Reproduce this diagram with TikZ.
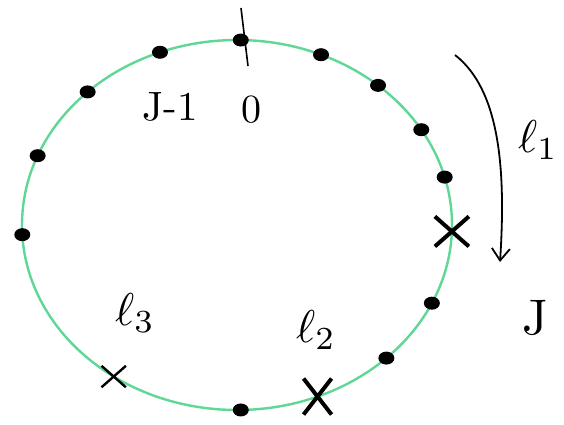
\documentclass[tikz,border=0pt]{standalone}
\usepackage{graphicx}
\usepackage{tikz}
\usetikzlibrary{positioning,shapes.misc,shapes.geometric,arrows.meta}
\definecolor{ringgreen}{RGB}{95,215,150}
\newcommand{\handtext}[2][4.6]{\scalebox{#1}{#2}}

\begin{document}
\begin{tikzpicture}[x=1pt,y=-1pt,
        site/.style={ellipse,fill=black,minimum width=16pt,minimum height=13pt,inner sep=0pt},
        bigcut/.style={cross out,draw=black,line width=4pt,minimum width=30pt,minimum height=26pt,inner sep=0pt},
        cut/.style={cross out,draw=black,line width=2.4pt,minimum width=22pt,minimum height=19pt,inner sep=0pt},
        tag/.style={inner sep=0pt}]
  \useasboundingbox (0,0) rectangle (564,425);
  \fill[white] (0,0) rectangle (564,425);
  % ring
  \draw[ringgreen,line width=2.4pt] (237,225) ellipse [x radius=215,y radius=185];
  % sites on the ring
  \foreach \a [count=\i] in {89,67,49,31,15,-25,-46,-89,183,158,134,111}
    \node[site] (s\i) at ({237+215*cos(\a)},{225-185*sin(\a)}) {};
  % cuts
  \node[bigcut] (c1) at ({237+215*cos(-2)},{225-185*sin(-2)}) {};
  \node[bigcut,minimum width=24pt,minimum height=32pt] (c2) at ({237+215*cos(-68)},{225-185*sin(-68)}) {};
  \node[cut] (c3) at ({237+215*cos(-125)},{225-185*sin(-125)}) {};
  % origin tick
  \coordinate (t0) at (241,8);
  \coordinate (t1) at (248,66);
  \draw[line width=1.6pt] (t0) -- (t1);
  % labels
  \node[tag] (jm) at (170,107) {\handtext[4.1]{J-1}};
  \node[tag] (zero) at (251,110) {\handtext[4]{0}};
  \node[tag] (l3) at (135,313) {\handtext{$\ell_3$}};
  \node[tag] (l2) at (316,330) {\handtext{$\ell_2$}};
  \node[tag] (jj) at (535,318) {\handtext[5]{J}};
  \node[tag,anchor=west] (l1) at (518,140) {\handtext{$\ell_1$}};
  % sweep arrow
  \coordinate (a0) at (455,55);
  \coordinate (a1) at (500,262);
  \draw[line width=1.8pt,-{Straight Barb[length=12pt,width=18pt]}]
    (a0) .. controls (500,90) and (506,170) .. (a1);
\end{tikzpicture}
\end{document}
